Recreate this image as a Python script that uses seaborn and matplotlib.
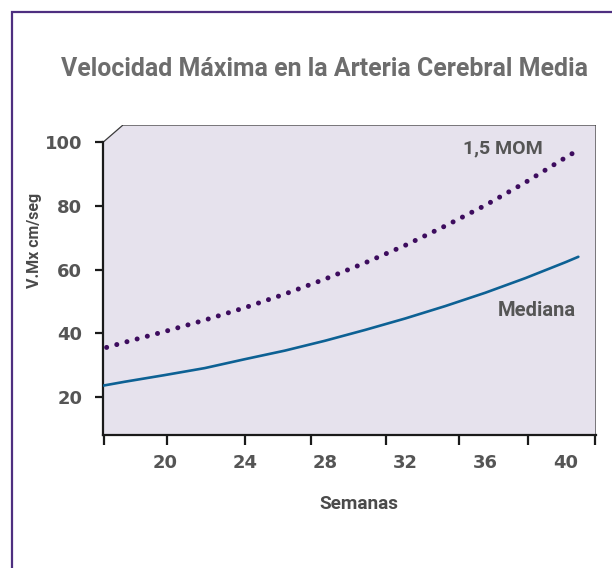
import numpy as np
import pandas as pd
import matplotlib.pyplot as plt
import seaborn as sns
from matplotlib.patches import Polygon, Rectangle
from matplotlib.lines import Line2D

# values
weeks_median = [16.94, 18, 20, 22, 24, 26, 28, 30, 32, 34, 36, 38, 40, 40.64]
median = [23.5, 24.7, 26.8, 29.0, 31.8, 34.5, 37.6, 41.0, 44.6, 48.5, 52.7, 57.3, 62.3, 64.0]
weeks_mom = [17.1, 18, 20, 22, 24, 26, 28, 30, 32, 34, 36, 38, 40, 40.64]
mom = [35.5, 37.1, 40.5, 44.1, 48.0, 52.3, 57.0, 62.1, 67.6, 73.7, 80.2, 87.4, 95.2, 97.6]
x_labels = [20, 24, 28, 32, 36, 40]
y_ticks = [20, 40, 60, 80, 100]
title = "Velocidad Máxima en la Arteria Cerebral Media"

df_med = pd.DataFrame({"Semanas": weeks_median, "V": median})
df_mom = pd.DataFrame({"Semanas": weeks_mom, "V": mom})

sns.set_theme(style="white")
narrow = ["Roboto", "DejaVu Sans"]
plt.rcParams["font.family"] = ["DejaVu Sans"]

fig = plt.figure(figsize=(6.12, 5.68), dpi=100)
fig.patch.set_facecolor("white")

# outer purple frame (runs off right and bottom)
fig.patches.append(Rectangle((12 / 612, -0.1), 1.2, 1.1 - 12 / 568, transform=fig.transFigure,
                             fill=False, edgecolor="#4e2f80", lw=1.6, zorder=0))

ax = fig.add_axes([103 / 612, 1 - 435 / 568, 493 / 612, 310 / 568])
ax.set_facecolor("none")
ax.set_xlim(16.92, 41.52)
ax.set_ylim(7.96, 105.44)

# bevelled background
bx, by = 20 / 493, (435 - 142.3) / 310
ax.add_patch(Polygon([(0, 0), (0, by), (bx, 1), (1, 1), (1, 0)], closed=True,
                     transform=ax.transAxes, facecolor="#e6e2ed", edgecolor="none", zorder=0))
ax.add_line(Line2D([0, bx, 1, 1], [by, 1, 1, 0], transform=ax.transAxes,
                   color="#3a3a3a", lw=0.9, zorder=1))

sns.lineplot(data=df_med, x="Semanas", y="V", ax=ax, color="#0d6194", lw=1.9, zorder=3)
sns.lineplot(data=df_mom, x="Semanas", y="V", ax=ax, color="#3d0c5e", lw=3.6, zorder=3)
dot = ax.lines[-1]
dot.set_linestyle((0, (0.01, 2.1)))
dot.set_dash_capstyle("round")

for s in ["top", "right"]:
    ax.spines[s].set_visible(False)
for s in ["left", "bottom"]:
    ax.spines[s].set_color("#1a1a1a")
    ax.spines[s].set_linewidth(1.6)
ax.spines["left"].set_bounds(7.96, 100)

ax.set_yticks(y_ticks)
ax.set_yticklabels([str(v) for v in y_ticks])
ax.tick_params(axis="y", length=6, width=1.6, color="#1a1a1a", pad=9,
               labelsize=13, labelcolor="#555555", left=True)
ax.set_xticks(x_labels)
ax.set_xticklabels([str(v) for v in x_labels])
ax.tick_params(axis="x", which="major", length=0, pad=14, labelsize=13, labelcolor="#555555")
ax.set_xticks([16.96, 20.13, 23.99, 27.29, 31.04, 34.69, 38.11, 41.49], minor=True)
ax.tick_params(axis="x", which="minor", length=7, width=1.6, color="#1a1a1a", bottom=True)
for lab in ax.get_xticklabels() + ax.get_yticklabels():
    lab.set_fontweight("bold")

ax.set_xlabel("")
ax.set_ylabel("")
ax.grid(False)

ax.text(0.811, 0.924, "1,5 MOM", transform=ax.transAxes, ha="center", va="center",
        fontsize=14, fontweight="bold", color="#555555", family=narrow)
ax.text(0.880, 0.400, "Mediana", transform=ax.transAxes, ha="center", va="center",
        fontsize=14.5, fontweight="bold", color="#555555", family=narrow)

t = fig.text(0.531, 0.878, title, ha="center", va="center", fontsize=20, fontweight="bold",
             color="#6d6d6d", family=narrow)
fig.text(0.586, 0.112, "Semanas", ha="center", va="center", fontsize=13.7,
         fontweight="bold", color="#4a4a4a", family=narrow)
fig.text(0.056, 0.577, "V.Mx cm/seg", ha="center", va="center", rotation=90,
         fontsize=11.5, fontweight="bold", color="#4a4a4a", family=narrow)

# shrink title so it spans about the same width as in the reference
fig.canvas.draw()
w = t.get_window_extent().width
t.set_fontsize(20 * 526 / w)

fig.savefig("out.png", dpi=100)
